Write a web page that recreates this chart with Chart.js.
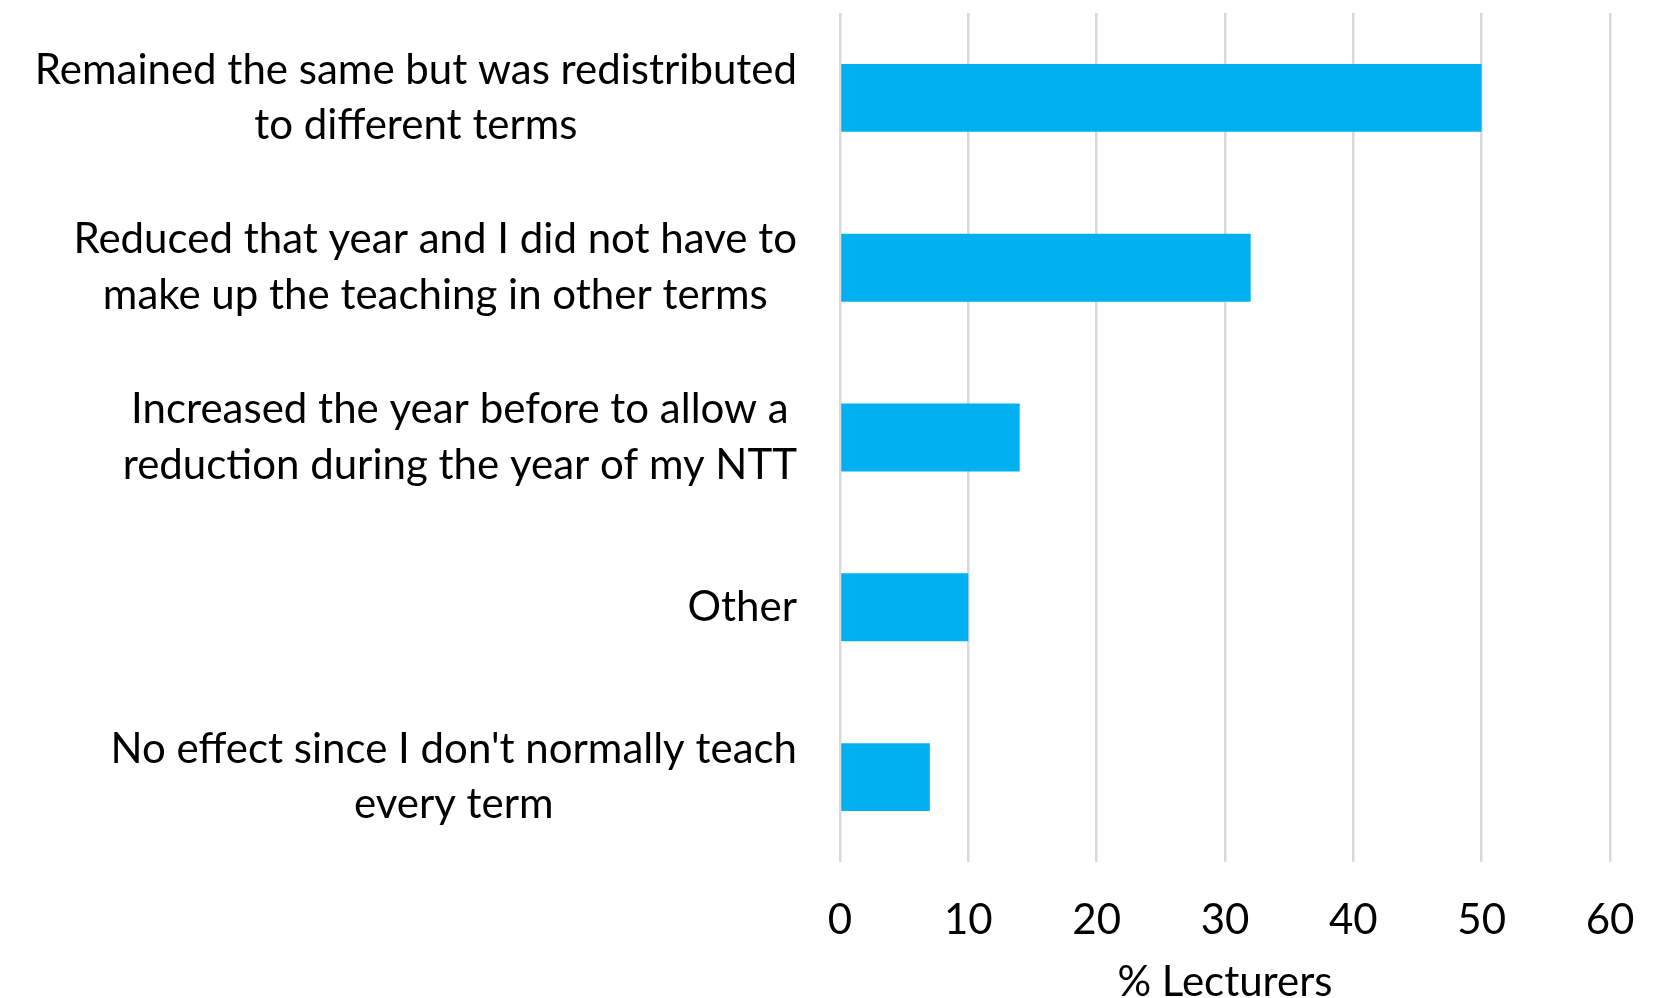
<!DOCTYPE html>
<html>
<head>
<meta charset="utf-8">
<script src="https://cdn.jsdelivr.net/npm/chart.js@4.4.1/dist/chart.umd.min.js"></script>
<style>
  html, body { margin: 0; padding: 0; background: #fff; }
</style>
</head>
<body>
<canvas id="ntt" width="1673" height="998"></canvas>
<script>
// categories (each one a list of lines), values and axis ticks
const categories = [
    ['Remained the same but was redistributed', 'to different terms'],
    ['Reduced that year and I did not have to', 'make up the teaching in other terms'],
    ['Increased the year before to allow a', 'reduction during the year of my NTT'],
    ['Other'],
    ["No effect since I don't normally teach", 'every term']
];
const lecturers = [50, 32, 14, 10, 7];
const xTicks = [0, 10, 20, 30, 40, 50, 60];
const xTitle = '% Lecturers';

const FONT = 'Lato, "Open Sans", sans-serif';

// y labels are drawn by hand: block right-aligned to the axis, lines centred inside the block
const categoryLabels = {
    id: 'categoryLabels',
    afterDraw(chart) {
        const { ctx, chartArea } = chart;
        const y = chart.scales.y;
        const right = chartArea.left - 43;
        const lineGap = 55.5;
        ctx.save();
        ctx.font = '42px ' + FONT;
        ctx.fillStyle = '#000';
        ctx.textAlign = 'center';
        ctx.textBaseline = 'middle';
        chart.data.labels.forEach((lines, i) => {
            const cy = y.getPixelForValue(i);
            const w = Math.max(...lines.map(l => ctx.measureText(l).width));
            const cx = right - w / 2;
            lines.forEach((line, j) => {
                ctx.fillText(line, cx, cy + (j - (lines.length - 1) / 2) * lineGap);
            });
        });
        ctx.restore();
    }
};

new Chart(document.getElementById('ntt'), {
    type: 'bar',
    data: {
        labels: categories,
        datasets: [{
            label: xTitle,
            data: lecturers,
            backgroundColor: '#00b0f0',
            categoryPercentage: 1,
            barPercentage: 0.4
        }]
    },
    options: {
        indexAxis: 'y',
        responsive: false,
        animation: false,
        layout: { padding: { left: 840, right: 63, top: 13, bottom: 0 } },
        plugins: {
            legend: { display: false },
            tooltip: { enabled: false }
        },
        scales: {
            x: {
                min: xTicks[0],
                max: xTicks[xTicks.length - 1],
                afterBuildTicks: axis => { axis.ticks = xTicks.map(v => ({ value: v })); },
                // fixed band under the plot for tick labels + title
                afterFit: axis => { axis.height = 136; },
                grid: { color: '#d9d9d9', lineWidth: 2.5, drawTicks: false },
                border: { display: false },
                ticks: {
                    color: '#000',
                    padding: 33,
                    font: { family: FONT, size: 42, lineHeight: 1.2 }
                },
                title: {
                    display: true,
                    text: xTitle,
                    color: '#000',
                    padding: { top: 0, bottom: 0 },
                    font: { family: FONT, size: 42, lineHeight: 0.75 }
                }
            },
            y: {
                display: false
            }
        }
    },
    plugins: [categoryLabels]
});
</script>
</body>
</html>
